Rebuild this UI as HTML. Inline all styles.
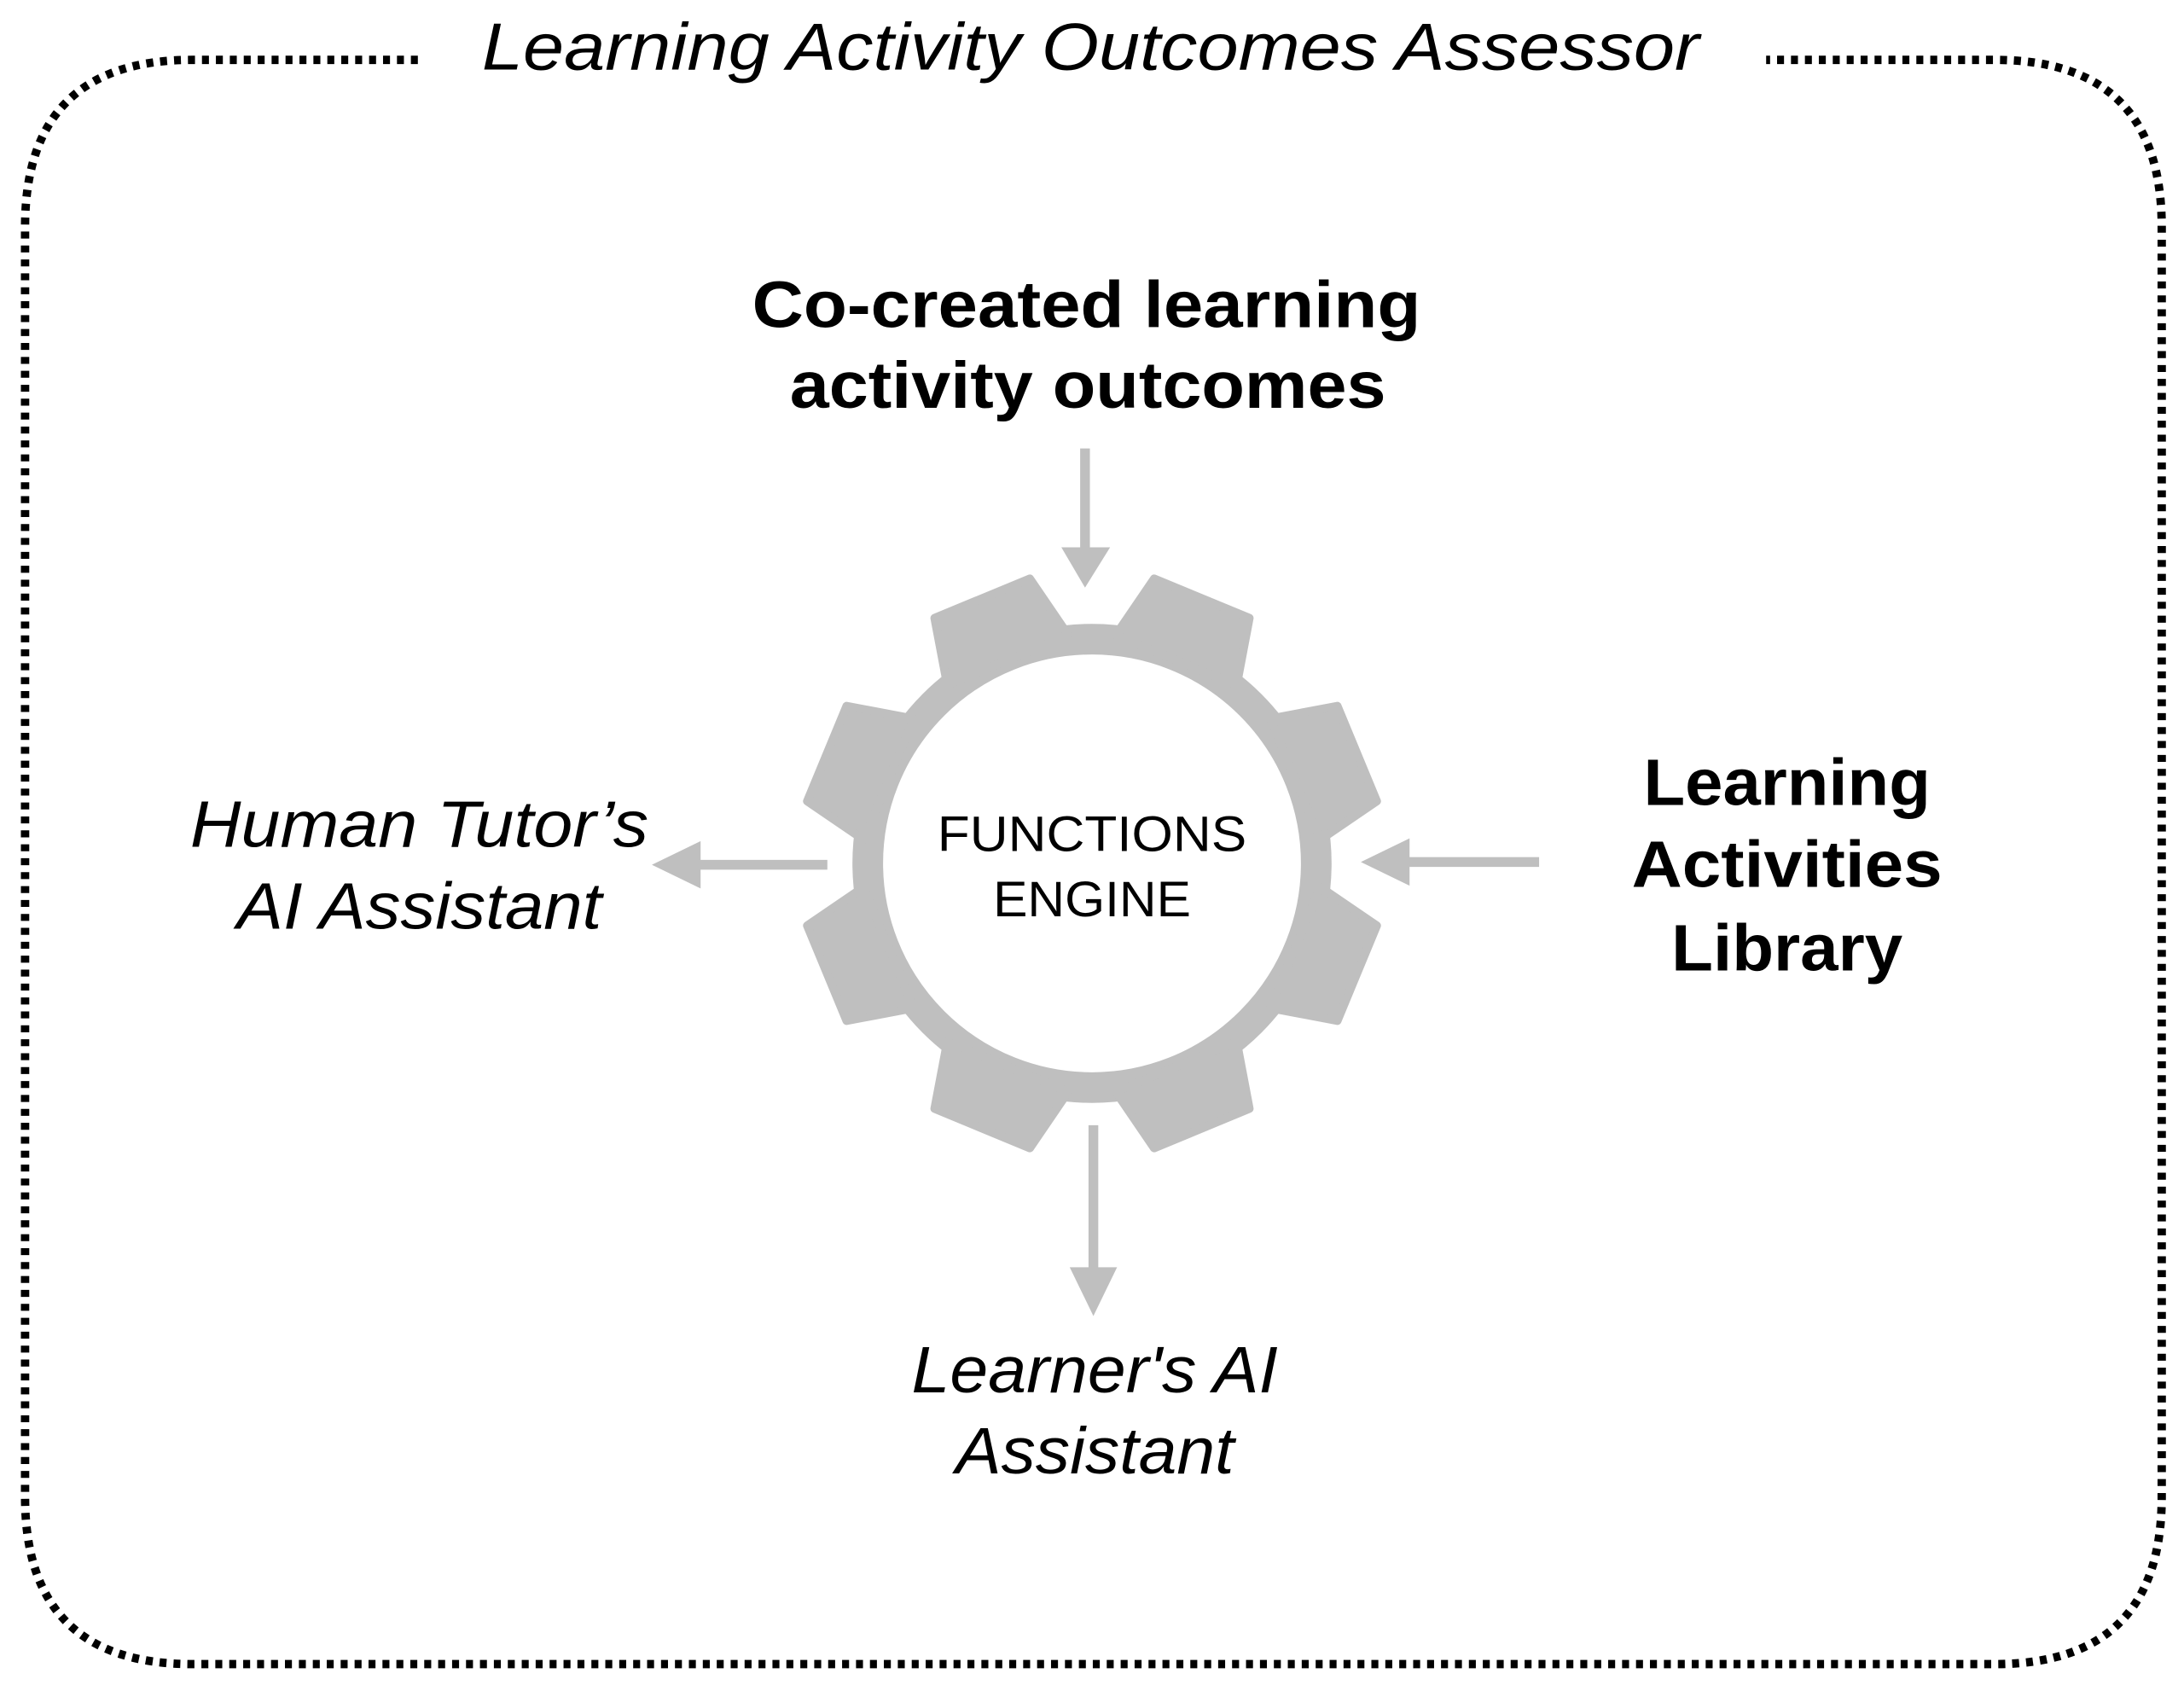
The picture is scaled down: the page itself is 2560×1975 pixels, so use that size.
<!DOCTYPE html>
<html><head><meta charset="utf-8">
<style>html,body{margin:0;padding:0;background:#fff;}svg{display:block;}</style>
</head><body>
<svg width="2560" height="1975" viewBox="0 0 1568 1210" preserveAspectRatio="none" xmlns="http://www.w3.org/2000/svg">
<path d="M300,43 L138,43 Q18,43 18,163 L18,1075 Q18,1195 138,1195 L1432,1195 Q1552,1195 1552,1075 L1552,163 Q1552,43 1432,43 L1268,43" fill="none" stroke="#000" stroke-width="6" stroke-dasharray="5 5"/>
<g font-family="Liberation Sans, sans-serif">
<text x="783" y="50" font-size="48" font-style="italic" text-anchor="middle" textLength="874" lengthAdjust="spacingAndGlyphs">Learning Activity Outcomes Assessor</text>
<text x="780" y="235" font-size="47" font-weight="bold" text-anchor="middle" textLength="480" lengthAdjust="spacingAndGlyphs">Co-created learning</text>
<text x="781" y="293" font-size="47" font-weight="bold" text-anchor="middle" textLength="428" lengthAdjust="spacingAndGlyphs">activity outcomes</text>
<text x="1283" y="578" font-size="47" font-weight="bold" text-anchor="middle" textLength="206" lengthAdjust="spacingAndGlyphs">Learning</text>
<text x="1283" y="637" font-size="47" font-weight="bold" text-anchor="middle" textLength="223" lengthAdjust="spacingAndGlyphs">Activities</text>
<text x="1283" y="697" font-size="47" font-weight="bold" text-anchor="middle" textLength="166" lengthAdjust="spacingAndGlyphs">Library</text>
<text x="301" y="608" font-size="47" font-style="italic" text-anchor="middle" textLength="329" lengthAdjust="spacingAndGlyphs">Human Tutor’s</text>
<text x="301" y="667" font-size="47" font-style="italic" text-anchor="middle" textLength="262" lengthAdjust="spacingAndGlyphs">AI Assistant</text>
<text x="786" y="1000" font-size="47" font-style="italic" text-anchor="middle" textLength="263" lengthAdjust="spacingAndGlyphs">Learner's AI</text>
<text x="786" y="1058" font-size="47" font-style="italic" text-anchor="middle" textLength="200" lengthAdjust="spacingAndGlyphs">Assistant</text>
</g>
<g fill="#bfbfbf" stroke="#bfbfbf">
<circle cx="784" cy="620" r="161" fill="none" stroke-width="22"/>
<g transform="translate(784,620)" stroke-width="6" stroke-linejoin="round">
<polygon points="-47,-158 47,-158 37,-206 -37,-206" transform="rotate(22.5)"/>
<polygon points="-47,-158 47,-158 37,-206 -37,-206" transform="rotate(67.5)"/>
<polygon points="-47,-158 47,-158 37,-206 -37,-206" transform="rotate(112.5)"/>
<polygon points="-47,-158 47,-158 37,-206 -37,-206" transform="rotate(157.5)"/>
<polygon points="-47,-158 47,-158 37,-206 -37,-206" transform="rotate(202.5)"/>
<polygon points="-47,-158 47,-158 37,-206 -37,-206" transform="rotate(247.5)"/>
<polygon points="-47,-158 47,-158 37,-206 -37,-206" transform="rotate(292.5)"/>
<polygon points="-47,-158 47,-158 37,-206 -37,-206" transform="rotate(337.5)"/>
</g>
<line x1="779" y1="322" x2="779" y2="396" stroke-width="7"/>
<polygon points="762,393 797,393 779,422" stroke="none"/>
<line x1="594" y1="621" x2="500" y2="621" stroke-width="7"/>
<polygon points="503,604 503,638 468,621" stroke="none"/>
<line x1="1105" y1="619" x2="1010" y2="619" stroke-width="7"/>
<polygon points="1012,602 1012,636 977,619" stroke="none"/>
<line x1="785" y1="808" x2="785" y2="912" stroke-width="7"/>
<polygon points="768,910 802,910 785,945" stroke="none"/>
</g>
<g font-family="Liberation Sans, sans-serif" font-size="36" text-anchor="middle" fill="#000">
<text x="784" y="611" textLength="222" lengthAdjust="spacingAndGlyphs">FUNCTIONS</text>
<text x="784" y="658" textLength="142" lengthAdjust="spacingAndGlyphs">ENGINE</text>
</g>
</svg>
</body></html>
